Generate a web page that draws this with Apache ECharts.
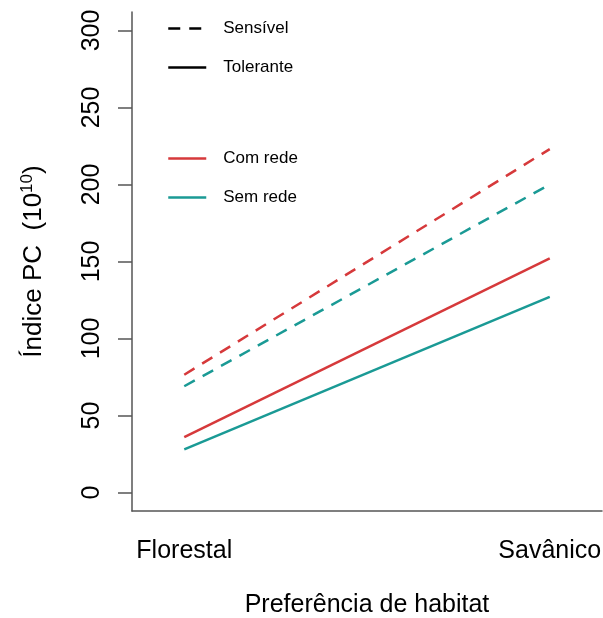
<!DOCTYPE html>
<html>
<head>
<meta charset="utf-8">
<script src="https://cdn.jsdelivr.net/npm/echarts@6/dist/echarts.min.js"></script>
<style>
html,body{margin:0;padding:0;background:#fff;}
#chart{width:603px;height:618px;}
</style>
</head>
<body>
<div id="chart"></div>
<script>
// ---- data ----
const categories = ['Florestal', 'Savânico'];
const yTicks = [0, 50, 100, 150, 200, 250, 300];
const sensivelComRede = [76.5, 223];
const sensivelSemRede = [69, 200];
const toleranteComRede = [36, 152];
const toleranteSemRede = [28, 127];
const legendTipo = ['Sensível', 'Tolerante'];
const legendRede = ['Com rede', 'Sem rede'];

const RED = '#D6393B';
const TEAL = '#1A9A95';
const FONT = '"Liberation Sans", Arial, sans-serif';
const DASH = [12, 9];

function pts(vals) { return vals.map((v, i) => [i + 1, v]); }

const legendBase = {
  orient: 'vertical', left: 167, padding: 0,
  itemWidth: 38, itemHeight: 14, itemGap: 22,
  itemStyle: {opacity: 0},
  lineStyle: {width: 2.5},
  textStyle: {fontSize: 17, lineHeight: 14, color: '#000', fontFamily: FONT, padding: [0, 0, 0, 12]},
  selectedMode: false
};

const chart = echarts.init(document.getElementById('chart'), null, {renderer: 'canvas'});
const option = {
  animation: false,
  backgroundColor: '#fff',
  textStyle: {fontFamily: FONT},
  grid: {left: 132, right: 1, top: 12, bottom: 107, containLabel: false, outerBoundsMode: 'none'},
  legend: [
    Object.assign({}, legendBase, {data: legendTipo, top: 20}),
    Object.assign({}, legendBase, {data: legendRede, top: 150})
  ],
  xAxis: {
    type: 'value', min: 0.857, max: 2.143,
    axisLine: {show: true, onZero: false, lineStyle: {color: '#555', width: 1.5}},
    axisTick: {show: false},
    splitLine: {show: false},
    axisLabel: {
      customValues: [1, 2],
      formatter: v => categories[Math.round(v) - 1] || '',
      fontSize: 25, color: '#000', fontFamily: FONT, margin: 28
    },
    name: 'Preferência de habitat', nameLocation: 'middle', nameGap: 82,
    nameTextStyle: {fontSize: 25, color: '#000', fontFamily: FONT}
  },
  yAxis: {
    type: 'value', min: -12, max: 312,
    axisLine: {show: true, lineStyle: {color: '#555', width: 1.5}},
    axisTick: {show: true, length: 14, customValues: yTicks, lineStyle: {color: '#555', width: 1.5}},
    splitLine: {show: false},
    axisLabel: {
      customValues: yTicks, rotate: 90,
      fontSize: 25, color: '#000', fontFamily: FONT, margin: 27
    },
    name: 'Índice PC  (10{sup|10})', nameLocation: 'middle', nameGap: 83, nameRotate: 90,
    nameTextStyle: {
      fontSize: 26, color: '#000', fontFamily: FONT, lineHeight: 30,
      rich: {sup: {fontSize: 17, fontFamily: FONT, color: '#000', verticalAlign: 'top', lineHeight: 30, padding: [0, 0, 10, 0]}}
    }
  },
  series: [
    {name: 'Sensível', type: 'line', data: [], symbol: 'none', lineStyle: {color: '#000', width: 2.5, type: DASH}, itemStyle: {color: '#000'}},
    {name: 'Tolerante', type: 'line', data: [], symbol: 'none', lineStyle: {color: '#000', width: 2.5}, itemStyle: {color: '#000'}},
    {name: 'Com rede', type: 'line', data: [], symbol: 'none', lineStyle: {color: RED, width: 2.5}, itemStyle: {color: RED}},
    {name: 'Sem rede', type: 'line', data: [], symbol: 'none', lineStyle: {color: TEAL, width: 2.5}, itemStyle: {color: TEAL}},
    {name: 'Sensível - Com rede', type: 'line', data: pts(sensivelComRede), symbol: 'none', lineStyle: {color: RED, width: 2.5, type: DASH}},
    {name: 'Sensível - Sem rede', type: 'line', data: pts(sensivelSemRede), symbol: 'none', lineStyle: {color: TEAL, width: 2.5, type: DASH}},
    {name: 'Tolerante - Com rede', type: 'line', data: pts(toleranteComRede), symbol: 'none', lineStyle: {color: RED, width: 2.5}},
    {name: 'Tolerante - Sem rede', type: 'line', data: pts(toleranteSemRede), symbol: 'none', lineStyle: {color: TEAL, width: 2.5}}
  ]
};
chart.setOption(option);
</script>
</body>
</html>
